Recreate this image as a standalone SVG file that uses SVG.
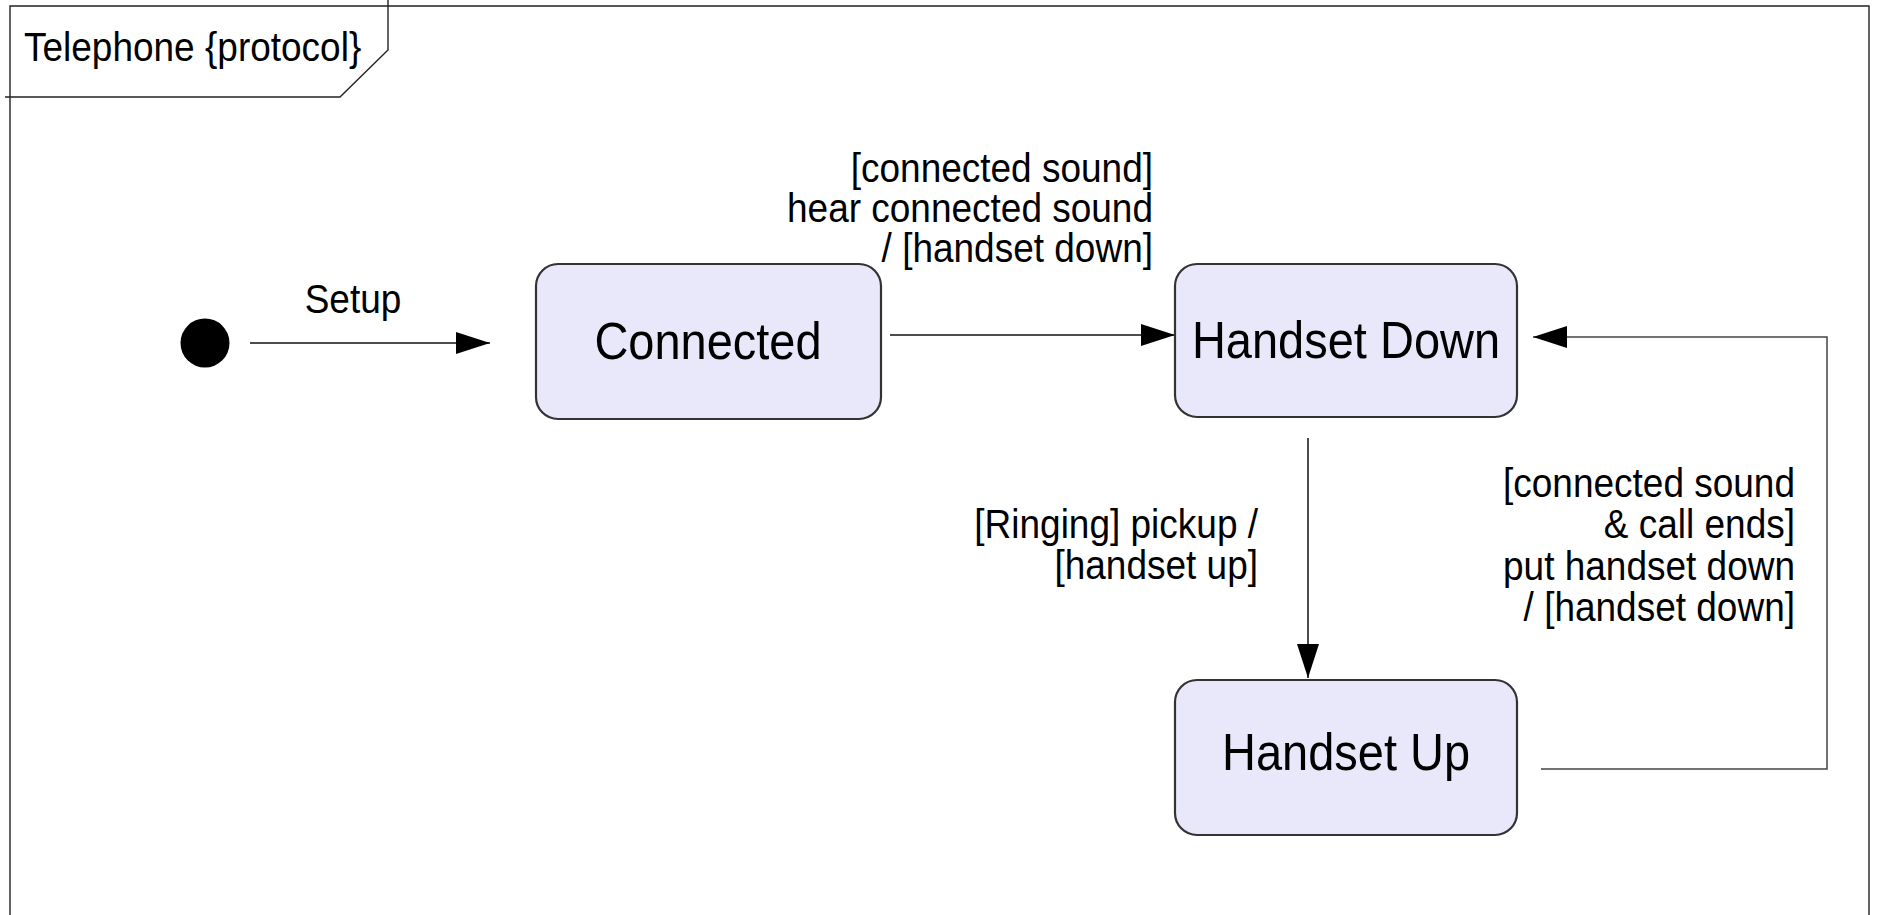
<svg xmlns="http://www.w3.org/2000/svg" width="1878" height="915" viewBox="0 0 1878 915">
  <style>
    .frame { fill: none; stroke: #222; stroke-width: 1.4; }
    .state { fill: #E8E8FA; stroke: #333; stroke-width: 2.2; }
    .name { font-family: "Liberation Sans", Arial, sans-serif; font-size: 47px; fill: #000; text-anchor: middle; }
    .lbl { font-family: "Liberation Sans", Arial, sans-serif; font-size: 37px; fill: #000; }
    .end { text-anchor: end; }
    .edge { fill: none; stroke: #111; stroke-width: 1.5; }
    .loop { fill: none; stroke: #444; stroke-width: 1.5; }
  </style>
  <defs>
    <marker id="head" markerUnits="userSpaceOnUse" markerWidth="34" markerHeight="22" refX="34" refY="11" orient="auto">
      <path d="M0,0 L34,11 L0,22 Z" fill="#000"/>
    </marker>
  </defs>

  <rect width="1878" height="915" fill="#fff"/>

  <!-- protocol state machine frame with name tab -->
  <g id="frame">
    <path class="frame" d="M10,920 L10,6 L1869,6 L1869,920"/>
    <path class="frame" d="M5,97 L340,97 L388,50 L388,0"/>
    <text class="lbl" font-size="36" transform="translate(24,61) scale(1,1.12)">Telephone {protocol}</text>
  </g>

  <!-- transitions (glyphs are drawn slightly tall: scale(1,1.12)) -->
  <g id="connectors">
    <line class="edge" x1="250" y1="343" x2="490" y2="343" marker-end="url(#head)"/>
    <line class="edge" x1="890" y1="335" x2="1175" y2="335" marker-end="url(#head)"/>
    <line class="edge" x1="1308" y1="438" x2="1308" y2="678" marker-end="url(#head)"/>
    <path class="loop" d="M1541,769 L1827,769 L1827,337 L1533,337" marker-end="url(#head)"/>

    <text class="lbl" text-anchor="middle" transform="translate(353,313) scale(1,1.12)">Setup</text>

    <text class="lbl end" transform="translate(1153,182) scale(1,1.12)">[connected sound]</text>
    <text class="lbl end" transform="translate(1153,222) scale(1,1.12)">hear connected sound</text>
    <text class="lbl end" transform="translate(1153,262) scale(1,1.12)">/ [handset down]</text>

    <text class="lbl end" transform="translate(1258,538) scale(1,1.12)">[Ringing] pickup /</text>
    <text class="lbl end" transform="translate(1258,579) scale(1,1.12)">[handset up]</text>

    <text class="lbl end" transform="translate(1795,497) scale(1,1.12)">[connected sound</text>
    <text class="lbl end" transform="translate(1795,538) scale(1,1.12)">&amp; call ends]</text>
    <text class="lbl end" transform="translate(1795,580) scale(1,1.12)">put handset down</text>
    <text class="lbl end" transform="translate(1795,621) scale(1,1.12)">/ [handset down]</text>
  </g>

  <!-- states -->
  <g id="initial">
    <circle cx="205" cy="343" r="24.5" fill="#000"/>
  </g>

  <g id="connected">
    <rect class="state" x="536" y="264" width="345" height="155" rx="22" ry="22"/>
    <text class="name" transform="translate(708,359) scale(1,1.12)">Connected</text>
  </g>

  <g id="handset-down">
    <rect class="state" x="1175" y="264" width="342" height="153" rx="22" ry="22"/>
    <text class="name" transform="translate(1346,358) scale(1,1.12)">Handset Down</text>
  </g>

  <g id="handset-up">
    <rect class="state" x="1175" y="680" width="342" height="155" rx="22" ry="22"/>
    <text class="name" transform="translate(1346,770) scale(1,1.12)">Handset Up</text>
  </g>
</svg>
